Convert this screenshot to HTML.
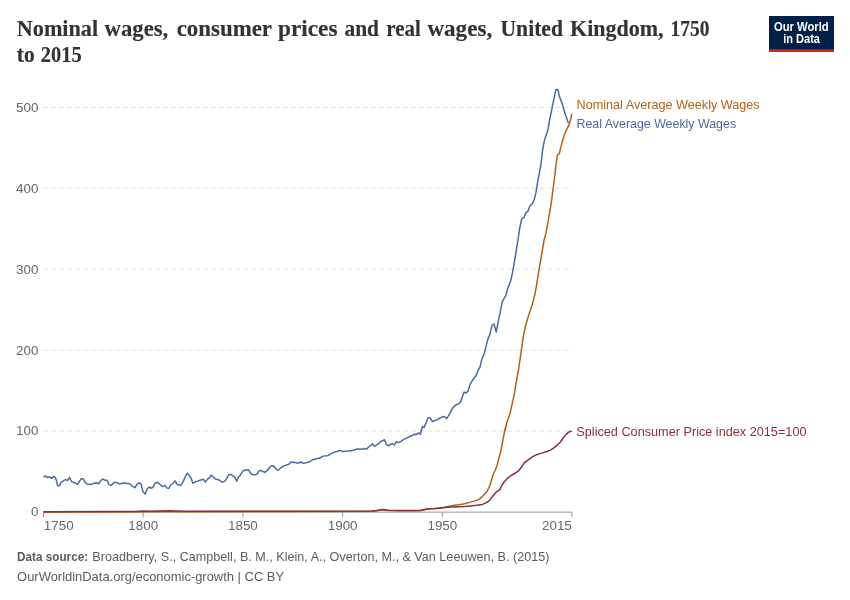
<!DOCTYPE html>
<html lang="en">
<head>
<meta charset="utf-8">
<title>Nominal wages, consumer prices and real wages, United Kingdom, 1750 to 2015</title>
<style>
html,body{margin:0;padding:0;background:#ffffff;}
body{width:850px;height:600px;overflow:hidden;}
svg{display:block;font-family:'Liberation Sans', Arial, sans-serif;}
</style>
</head>
<body>
<svg width="850" height="600" viewBox="0 0 850 600">
<rect x="0" y="0" width="850" height="600" fill="#ffffff"/>
<text font-family="'Liberation Serif', 'Times New Roman', serif" font-weight="bold" font-size="22.6" fill="#333333" stroke="#333333" stroke-width="0.15" y="36.3"><tspan x="16.8" textLength="81.3" lengthAdjust="spacingAndGlyphs">Nominal</tspan> <tspan x="104.6" textLength="63.6" lengthAdjust="spacingAndGlyphs">wages,</tspan> <tspan x="176.7" textLength="94.9" lengthAdjust="spacingAndGlyphs">consumer</tspan> <tspan x="278.1" textLength="59.4" lengthAdjust="spacingAndGlyphs">prices</tspan> <tspan x="344.5" textLength="34.5" lengthAdjust="spacingAndGlyphs">and</tspan> <tspan x="386.3" textLength="34.5" lengthAdjust="spacingAndGlyphs">real</tspan> <tspan x="427.4" textLength="64.8" lengthAdjust="spacingAndGlyphs">wages,</tspan> <tspan x="500.5" textLength="62.5" lengthAdjust="spacingAndGlyphs">United</tspan> <tspan x="570.0" textLength="93.6" lengthAdjust="spacingAndGlyphs">Kingdom,</tspan> <tspan x="670.6" textLength="38.8" lengthAdjust="spacingAndGlyphs">1750</tspan></text>
<text font-family="'Liberation Serif', 'Times New Roman', serif" font-weight="bold" font-size="22.6" fill="#333333" stroke="#333333" stroke-width="0.15" y="62.2"><tspan x="16.8" textLength="17.9" lengthAdjust="spacingAndGlyphs">to</tspan> <tspan x="40.8" textLength="41" lengthAdjust="spacingAndGlyphs">2015</tspan></text>

<g>
<rect x="769" y="16" width="65" height="36" fill="#002147"/>
<rect x="769" y="49.2" width="65" height="2.8" fill="#ce261e"/>
<text x="801.3" y="30.7" text-anchor="middle" font-size="12.4" font-weight="bold" fill="#ffffff" textLength="54.8" lengthAdjust="spacingAndGlyphs">Our World</text>
<text x="801.6" y="42.5" text-anchor="middle" font-size="12.4" font-weight="bold" fill="#ffffff" textLength="36.8" lengthAdjust="spacingAndGlyphs">in Data</text>
</g>
<g>
<line x1="43.5" x2="572.0" y1="431.18" y2="431.18" stroke="#dddddd" stroke-width="1" stroke-dasharray="4,4"/>
<line x1="43.5" x2="572.0" y1="350.21" y2="350.21" stroke="#dddddd" stroke-width="1" stroke-dasharray="4,4"/>
<line x1="43.5" x2="572.0" y1="269.24" y2="269.24" stroke="#dddddd" stroke-width="1" stroke-dasharray="4,4"/>
<line x1="43.5" x2="572.0" y1="188.27" y2="188.27" stroke="#dddddd" stroke-width="1" stroke-dasharray="4,4"/>
<line x1="43.5" x2="572.0" y1="107.30" y2="107.30" stroke="#dddddd" stroke-width="1" stroke-dasharray="4,4"/>
</g>
<g>
<line x1="43.5" x2="572.0" y1="512.15" y2="512.15" stroke="#999999" stroke-width="1"/>
<line x1="43.50" x2="43.50" y1="512.15" y2="517.15" stroke="#999999" stroke-width="1"/>
<line x1="143.22" x2="143.22" y1="512.15" y2="517.15" stroke="#999999" stroke-width="1"/>
<line x1="242.93" x2="242.93" y1="512.15" y2="517.15" stroke="#999999" stroke-width="1"/>
<line x1="342.65" x2="342.65" y1="512.15" y2="517.15" stroke="#999999" stroke-width="1"/>
<line x1="442.37" x2="442.37" y1="512.15" y2="517.15" stroke="#999999" stroke-width="1"/>
<line x1="572.00" x2="572.00" y1="512.15" y2="517.15" stroke="#999999" stroke-width="1"/>
</g>
<g>
<text x="38.4" y="516.45" text-anchor="end" font-size="13.4" fill="#666666">0</text>
<text x="38.4" y="435.48" text-anchor="end" font-size="13.4" fill="#666666">100</text>
<text x="38.4" y="354.51" text-anchor="end" font-size="13.4" fill="#666666">200</text>
<text x="38.4" y="273.54" text-anchor="end" font-size="13.4" fill="#666666">300</text>
<text x="38.4" y="192.57" text-anchor="end" font-size="13.4" fill="#666666">400</text>
<text x="38.4" y="111.60" text-anchor="end" font-size="13.4" fill="#666666">500</text>
<text x="43.8" y="530.3" text-anchor="start" font-size="13.4" fill="#666666">1750</text>
<text x="143.22" y="530.3" text-anchor="middle" font-size="13.4" fill="#666666">1800</text>
<text x="242.93" y="530.3" text-anchor="middle" font-size="13.4" fill="#666666">1850</text>
<text x="342.65" y="530.3" text-anchor="middle" font-size="13.4" fill="#666666">1900</text>
<text x="442.37" y="530.3" text-anchor="middle" font-size="13.4" fill="#666666">1950</text>
<text x="571.8" y="530.3" text-anchor="end" font-size="13.4" fill="#666666">2015</text>
</g>
<g fill="none" stroke-width="1.5" stroke-linejoin="round" stroke-linecap="round">
<path d="M44.0,511.9 L143.5,511.7 L169.0,511.5 L185.0,511.7 L300.0,511.5 L372.0,511.3 L377.0,510.7 L382.4,509.8 L386.0,510.3 L389.0,510.6 L400.0,510.7 L410.6,510.7 L420.6,510.4 L424.7,509.4 L429.4,508.8 L435.3,508.5 L441.2,507.9 L447.1,506.7 L452.9,505.5 L458.8,504.8 L464.7,503.8 L470.6,502.1 L476.5,500.4 L480.0,498.6 L483.5,495.3 L487.1,491.2 L489.4,486.5 L491.2,481.2 L492.9,475.3 L495.3,470.0 L497.1,465.3 L498.8,458.8 L501.2,449.4 L502.9,440.0 L504.7,431.2 L506.5,424.7 L504.5,431.2 L507.1,421.8 L510.0,413.5 L512.1,404.1 L514.2,394.7 L515.9,384.1 L518.5,370.0 L520.1,358.8 L521.8,347.1 L523.5,335.3 L525.6,325.3 L527.6,318.8 L529.6,312.4 L531.8,305.9 L533.5,300.0 L535.3,292.4 L537.1,281.8 L538.8,271.2 L540.6,260.6 L542.4,250.0 L544.1,240.0 L545.9,233.5 L546.5,230.0 L548.2,221.2 L550.0,210.6 L551.8,198.8 L553.3,187.1 L554.7,176.5 L555.9,167.1 L555.2,170.0 L556.3,163.0 L557.5,154.8 L559.3,153.9 L561.0,146.7 L562.8,139.7 L564.5,134.4 L566.8,129.2 L568.9,125.1 L570.6,119.8 L571.7,114.2" stroke="#B16214"/>
<path d="M44.1,476.8 L45.3,475.9 L47.6,477.6 L49.6,476.8 L51.5,478.3 L53.5,476.4 L55.1,477.4 L56.5,480.3 L57.4,485.4 L59.4,485.8 L61.2,482.1 L62.9,481.1 L65.3,479.5 L67.6,480.6 L69.4,477.4 L71.5,481.5 L73.5,482.4 L75.3,482.8 L77.4,484.4 L79.4,481.5 L81.2,478.8 L83.3,478.8 L85.3,482.6 L87.1,484.1 L89.4,484.2 L91.8,484.4 L94.1,483.2 L96.5,482.8 L98.8,483.8 L100.9,480.3 L102.9,479.1 L105.3,480.3 L107.1,480.3 L108.8,484.4 L111.2,485.6 L113.5,482.9 L115.3,482.1 L117.6,483.0 L119.4,483.9 L122.4,483.2 L124.7,483.0 L127.1,483.5 L129.4,483.6 L132.4,486.2 L135.1,487.7 L137.1,484.2 L138.8,483.0 L140.0,483.2 L141.2,484.4 L142.9,491.5 L145.3,494.2 L147.1,489.1 L149.2,487.0 L151.2,488.2 L152.9,487.4 L155.1,483.2 L157.4,482.3 L159.4,483.8 L161.8,486.2 L163.5,486.5 L164.9,485.4 L166.8,487.9 L168.8,488.5 L170.8,485.0 L172.9,483.2 L175.1,480.9 L177.1,484.4 L179.1,484.8 L180.9,485.4 L182.9,482.1 L185.3,476.8 L187.3,473.2 L189.4,475.6 L191.2,478.5 L192.9,483.2 L195.3,481.8 L197.6,481.1 L200.0,480.2 L201.8,479.7 L203.5,479.1 L205.3,482.1 L207.1,479.7 L209.4,477.6 L211.2,475.2 L213.2,476.8 L215.3,479.1 L217.4,479.5 L219.1,479.9 L221.2,481.5 L222.9,482.1 L224.9,481.1 L227.1,477.9 L228.8,474.4 L230.8,474.4 L232.9,475.9 L235.1,477.6 L236.7,481.1 L238.6,476.8 L240.0,475.6 L241.8,472.6 L243.5,470.5 L245.9,470.1 L248.8,470.1 L250.6,473.6 L252.4,474.5 L254.7,474.8 L257.1,474.1 L258.8,471.2 L260.6,470.3 L262.9,471.5 L264.7,472.4 L266.8,470.9 L268.8,468.5 L270.8,466.2 L272.9,465.6 L274.7,467.4 L277.1,470.1 L278.8,469.7 L280.9,467.7 L282.9,466.5 L284.7,465.6 L287.1,464.8 L288.8,464.2 L290.8,462.1 L292.9,462.3 L295.1,462.6 L297.1,462.9 L298.8,463.0 L300.8,461.8 L302.6,463.2 L304.7,462.9 L307.1,462.5 L308.8,462.1 L310.6,461.1 L312.9,459.7 L315.3,459.1 L317.6,458.5 L320.0,458.1 L322.4,456.4 L324.1,455.9 L326.5,455.8 L328.2,455.6 L330.6,453.8 L332.9,452.6 L334.7,452.1 L337.1,451.5 L340.0,450.3 L342.4,451.5 L344.7,451.2 L347.1,451.1 L350.0,450.9 L352.4,450.6 L354.7,449.7 L357.1,449.1 L358.8,448.9 L360.9,449.2 L362.9,449.1 L364.7,448.5 L366.8,448.9 L368.8,446.8 L370.6,445.6 L372.6,443.8 L374.5,446.4 L376.5,445.0 L378.5,443.8 L380.4,441.5 L382.4,441.1 L384.4,439.7 L386.5,444.4 L388.5,445.8 L390.6,444.2 L392.4,443.6 L394.4,445.0 L396.2,441.8 L398.2,442.6 L400.2,441.8 L402.4,440.3 L404.1,439.1 L406.5,438.2 L408.5,437.1 L410.6,436.2 L412.6,435.4 L414.4,434.2 L416.5,434.6 L418.6,432.9 L420.4,434.2 L422.4,426.5 L424.1,427.4 L426.5,421.8 L428.2,417.4 L430.0,417.9 L432.4,421.5 L434.7,420.6 L437.1,419.7 L440.0,418.0 L442.1,417.1 L444.4,416.6 L446.5,418.5 L448.5,415.9 L450.6,411.8 L452.7,408.2 L454.7,405.6 L456.7,404.5 L458.8,403.9 L460.6,401.8 L462.4,396.5 L464.1,392.1 L466.1,392.9 L468.0,390.9 L470.0,384.7 L472.0,381.2 L474.1,378.0 L476.2,375.6 L478.2,370.0 L478.2,370.0 L480.0,367.1 L482.1,358.2 L484.1,354.1 L486.1,345.9 L488.0,338.8 L490.0,334.1 L492.0,325.3 L494.1,324.1 L496.2,332.0 L498.2,321.8 L500.2,312.4 L502.1,302.4 L503.5,299.4 L505.9,295.3 L508.0,287.6 L510.4,281.8 L512.0,275.3 L513.8,265.3 L515.5,255.3 L517.1,245.3 L518.6,235.9 L519.4,230.0 L520.4,224.7 L521.8,218.5 L523.9,217.6 L525.9,212.9 L527.9,211.2 L529.8,206.2 L532.0,203.9 L533.9,200.6 L535.9,192.9 L537.6,182.4 L539.4,172.9 L540.8,165.3 L542.6,150.0 L544.1,141.8 L546.1,135.3 L548.0,129.4 L549.6,120.0 L551.8,109.4 L553.9,98.8 L555.9,89.6 L557.9,89.6 L559.8,97.6 L561.8,102.4 L563.8,109.4 L565.9,115.9 L568.2,122.6" stroke="#4C6A9C"/>
<path d="M44.0,511.7 L110.0,511.6 L135.0,511.4 L143.5,511.1 L150.0,511.2 L160.0,511.0 L169.0,510.8 L175.0,511.0 L185.0,511.2 L240.0,511.2 L300.0,511.2 L372.0,511.1 L377.0,510.5 L382.4,509.4 L386.0,510.0 L389.0,510.3 L400.0,510.5 L410.6,510.6 L420.6,510.4 L424.7,509.4 L429.4,508.8 L435.3,508.5 L441.2,507.9 L447.1,507.3 L452.9,506.9 L458.8,506.7 L464.7,506.4 L470.6,505.9 L476.5,505.3 L482.4,504.4 L485.9,502.9 L489.4,500.6 L492.9,495.9 L496.5,491.8 L500.0,489.4 L501.8,485.3 L504.7,481.2 L507.6,478.2 L511.2,475.5 L514.7,473.5 L518.2,471.2 L521.2,467.6 L524.1,462.9 L527.1,460.6 L530.6,458.2 L534.1,455.9 L538.2,454.1 L542.4,452.9 L546.5,451.8 L550.0,450.4 L553.5,448.2 L557.1,445.3 L560.6,441.8 L563.5,437.6 L566.5,434.1 L568.8,432.0 L571.2,431.2" stroke="#883039"/>
</g>
<g font-size="12.6">
<text x="576.5" y="109.4" fill="#B16214" textLength="183.2" lengthAdjust="spacingAndGlyphs">Nominal Average Weekly Wages</text>
<text x="576.5" y="127.6" fill="#4C6A9C" textLength="159.6" lengthAdjust="spacingAndGlyphs">Real Average Weekly Wages</text>
<text x="576.3" y="435.9" fill="#883039" textLength="230.2" lengthAdjust="spacingAndGlyphs">Spliced Consumer Price index 2015=100</text>
</g>
<g font-size="13.1" fill="#5b5b5b">
<text x="17.1" y="561.0"><tspan font-weight="bold" textLength="71" lengthAdjust="spacingAndGlyphs">Data source:</tspan><tspan x="92.3" textLength="457.1" lengthAdjust="spacingAndGlyphs">Broadberry, S., Campbell, B. M., Klein, A., Overton, M., &amp; Van Leeuwen, B. (2015)</tspan></text>
<text x="17.1" y="580.8" textLength="267" lengthAdjust="spacingAndGlyphs">OurWorldinData.org/economic-growth | CC BY</text>
</g>
</svg>
</body>
</html>
